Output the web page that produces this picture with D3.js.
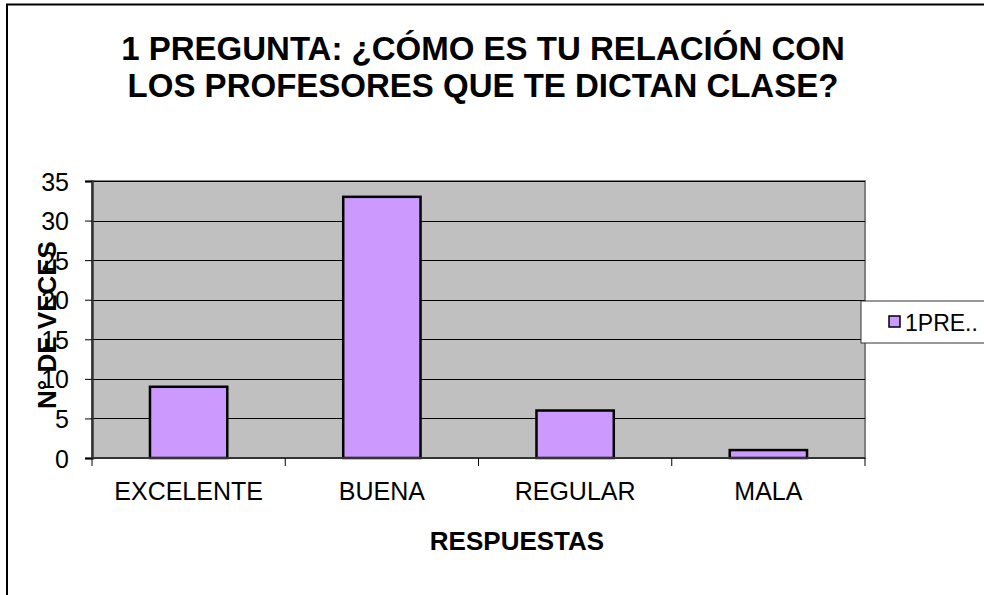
<!DOCTYPE html>
<html><head><meta charset="utf-8">
<script src="https://cdn.jsdelivr.net/npm/d3@7"></script>
<style>body{margin:0;background:#fff}svg{display:block}text{font-family:Arial,"Liberation Sans",sans-serif}</style>
</head><body>
<script>
const categories = ["EXCELENTE","BUENA","REGULAR","MALA"];
const values = [9,33,6,1];
const yTicks = [0,5,10,15,20,25,30,35];
const seriesName = "1PRE..";
const titleLines = ["1 PREGUNTA: ¿CÓMO ES TU RELACIÓN CON","LOS PROFESORES QUE TE DICTAN CLASE?"];
const yTitle = "N° DE VECES";
const xTitle = "RESPUESTAS";

const W=984,H=595;
const svg=d3.select("body").append("svg").attr("width",W).attr("height",H);
svg.append("line").attr("x1",7).attr("x2",7).attr("y1",4).attr("y2",H).attr("stroke","#000").attr("stroke-width",2);
svg.append("line").attr("x1",6).attr("x2",W).attr("y1",4.5).attr("y2",4.5).attr("stroke","#000").attr("stroke-width",2);

const L=92,R=865,T=181,B=458;
const x=d3.scaleBand().domain(categories).range([L,R]).paddingInner(0.6).paddingOuter(0.3);
const xb=d3.scaleBand().domain(categories).range([L,R]);
const y=d3.scaleLinear().domain([0,35]).range([B,T]);

svg.append("rect").attr("x",L).attr("y",T).attr("width",R-L).attr("height",B-T).attr("fill","#C0C0C0").attr("stroke","#808080").attr("stroke-width",2);
svg.append("g").selectAll("line").data(yTicks.slice(1)).join("line")
 .attr("x1",L).attr("x2",R).attr("y1",d=>Math.round(y(d))+0.5).attr("y2",d=>Math.round(y(d))+0.5).attr("stroke","#000").attr("stroke-width",1);

svg.append("g").selectAll("rect").data(values).join("rect")
 .attr("x",(d,i)=>x(categories[i])).attr("width",x.bandwidth())
 .attr("y",d=>y(d)).attr("height",d=>B-y(d))
 .attr("fill","#CC99FF").attr("stroke","#000").attr("stroke-width",2.5);

// y axis
const ya=svg.append("g").attr("transform",`translate(${L},0)`).call(d3.axisLeft(y).tickValues(yTicks).tickSize(7).tickPadding(16));
ya.selectAll("text").attr("font-size",25).attr("fill","#000").attr("dy","0.36em");
ya.selectAll("line").attr("stroke","#000");
ya.select(".domain").attr("stroke","#333").attr("stroke-width",2.5);

// x axis
const xa=svg.append("g").attr("transform",`translate(0,${B})`);
xa.append("line").attr("x1",L).attr("x2",R).attr("y1",0).attr("y2",0).attr("stroke","#333").attr("stroke-width",2);
const edges=categories.map(c=>xb(c)).concat([R]);
xa.selectAll("line.t").data(edges).join("line").attr("class","t")
 .attr("x1",d=>d).attr("x2",d=>d).attr("y1",0).attr("y2",8).attr("stroke","#000");
xa.selectAll("text").data(categories).join("text")
 .attr("x",d=>xb(d)+xb.bandwidth()/2).attr("y",42).attr("text-anchor","middle")
 .attr("font-size",25).text(d=>d);

// titles
const tl=svg.append("text").attr("text-anchor","middle").attr("font-weight","bold").attr("font-size",33);
tl.selectAll("tspan").data(titleLines).join("tspan").attr("x",483).attr("y",(d,i)=>60+i*37).text(d=>d);
svg.append("text").attr("x",517).attr("y",550).attr("text-anchor","middle").attr("font-weight","bold").attr("font-size",26).text(xTitle);
svg.append("text").attr("transform","translate(56,325) rotate(-90)").attr("text-anchor","middle").attr("font-weight","bold").attr("font-size",26).text(yTitle);

// legend
svg.append("rect").attr("x",861).attr("y",301).attr("width",130).attr("height",42).attr("fill","#fff").attr("stroke","#333").attr("stroke-width",1);
svg.append("rect").attr("x",889).attr("y",316).attr("width",11).attr("height",11).attr("fill","#CC99FF").attr("stroke","#000").attr("stroke-width",1.5);
svg.append("text").attr("x",905).attr("y",331).attr("font-size",23).text(seriesName);
</script>
</body></html>
